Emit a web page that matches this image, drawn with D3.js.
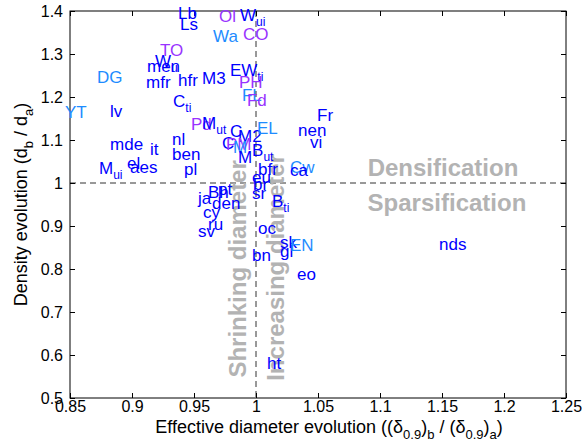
<!DOCTYPE html>
<html><head><meta charset="utf-8">
<script src="https://cdn.jsdelivr.net/npm/d3@7"></script>
<style>
body{margin:0;background:#fff;}
text{font-family:"Liberation Sans",Arial,Helvetica,sans-serif;}
</style></head>
<body><svg id="c" width="582" height="443"></svg>
<script>
// ---- data ----
const xTickValues = [0.85,0.9,0.95,1,1.05,1.1,1.15,1.2,1.25];
const xTickLabels = ["0.85","0.9","0.95","1","1.05","1.1","1.15","1.2","1.25"];
const yTickValues = [0.5,0.6,0.7,0.8,0.9,1,1.1,1.2,1.3,1.4];
const yTickLabels = ["0.5","0.6","0.7","0.8","0.9","1","1.1","1.2","1.3","1.4"];

const names = ["Lb","Ls","Ol","W","Wa","CO","TO","W","men","DG","mfr","hfr","M3","EW","PH","FL","Fd","C","YT","lv","Pd","M","C","M2","C","PM","M","M","EL","B","bfr","Fr","nen","vi","Cw","ca","eu","br","sr","B","oc","sk","gl","EN","bn","eo","ht","nds","mde","it","nl","ben","pl","M","el","aes","ja","pt","Bh","den","cy","ru","sv"];
const subs  = ["","","","ui","","","","u","","","","","","ti","","","","ti","","","","ut","","","","","","","","ut","","","","","","","","","","ti","","","","","","","","","","","","","","ui","","","","","","","","",""];
// group: 0 = blue, 1 = light blue, 2 = purple
const groups = [0,0,2,0,1,2,2,0,0,1,0,0,0,0,2,1,2,0,1,0,2,0,0,0,0,2,1,0,1,0,0,0,0,0,1,0,0,0,0,0,0,0,0,1,0,0,0,0,0,0,0,0,0,0,0,0,0,0,0,0,0,0,0];
const diamEvol = [0.9371,0.9387,0.9702,0.9871,0.9653,0.9895,0.9226,0.9185,0.9121,0.8718,0.9113,0.9371,0.9565,0.9790,0.9863,0.9887,0.9927,0.9331,0.8460,0.8823,0.9476,0.9565,0.9790,0.9855,0.9726,0.9758,0.9815,0.9855,1.0008,0.9968,1.0016,1.0492,1.0339,1.0435,1.0274,1.0274,0.9968,0.9976,0.9968,1.0129,1.0016,1.0194,1.0194,1.0274,0.9968,1.0331,1.0089,1.1476,0.8823,0.9145,0.9323,0.9323,0.9419,0.8734,0.8960,0.8984,0.9532,0.9694,0.9613,0.9645,0.9573,0.9613,0.9532];
const densEvol = [1.3953,1.3698,1.3884,1.3907,1.3419,1.3465,1.3093,1.2837,1.2721,1.2465,1.2349,1.2395,1.2442,1.2628,1.2349,1.2047,1.1930,1.1907,1.1651,1.1674,1.1372,1.1395,1.1209,1.1093,1.0930,1.0907,1.0837,1.0605,1.1279,1.0767,1.0326,1.1581,1.1233,1.0953,1.0372,1.0302,1.0140,0.9977,0.9767,0.9581,0.8953,0.8628,0.8419,0.8558,0.8326,0.7884,0.5814,0.8581,1.0907,1.0791,1.1023,1.0674,1.0326,1.0349,1.0465,1.0372,0.9651,0.9860,0.9791,0.9535,0.9326,0.9047,0.8884];

const regionTexts = ["Densification","Sparsification"];
const regionX = [1.1508,1.1540];
const regionY = [1.0372,0.9535];
const vertTexts = ["Shrinking diameter","Increasing diameter"];
const vertX = [0.9847,1.0161];
const vertY = [0.5475,0.540];

// ---- drawing ----
const colors = ["#0000ff","#1e8cff","#9933ff"];
const L = 70, R = 566, T = 11, B = 398;
const svg = d3.select("#c");
const x = d3.scaleLinear().domain([0.85,1.25]).range([L,R]);
const y = d3.scaleLinear().domain([0.5,1.4]).range([B,T]);

// reference lines
svg.append("line").attr("x1",L).attr("x2",R).attr("y1",y(1)).attr("y2",y(1))
  .attr("stroke","#333").attr("stroke-dasharray","6,4").attr("stroke-width",1);
svg.append("line").attr("x1",x(1)).attr("x2",x(1)).attr("y1",T).attr("y2",B)
  .attr("stroke","#333").attr("stroke-dasharray","6,4").attr("stroke-width",1);

// gray annotations
svg.selectAll("text.reg").data(regionTexts).enter().append("text")
  .attr("class","reg").attr("x",(d,i)=>x(regionX[i])).attr("y",(d,i)=>y(regionY[i]))
  .attr("text-anchor","middle").attr("dominant-baseline","central")
  .attr("font-size",24).attr("font-weight","bold").attr("fill","#b3b3b3").text(d=>d);
svg.selectAll("text.vert").data(vertTexts).enter().append("text")
  .attr("class","vert")
  .attr("transform",(d,i)=>`translate(${x(vertX[i])},${y(vertY[i])}) rotate(-90)`)
  .attr("text-anchor","start").attr("dominant-baseline","central")
  .attr("font-size",24).attr("font-weight","bold").attr("fill","#b3b3b3").text(d=>d);

// axes
const fmtX = (d)=>xTickLabels[xTickValues.indexOf(d)];
const fmtY = (d)=>yTickLabels[yTickValues.indexOf(d)];
const gx = svg.append("g").attr("transform",`translate(0,${B})`)
  .call(d3.axisBottom(x).tickValues(xTickValues).tickFormat(fmtX).tickSize(-5).tickSizeOuter(0).tickPadding(3));
const gxt = svg.append("g").attr("transform",`translate(0,${T})`)
  .call(d3.axisTop(x).tickValues(xTickValues).tickFormat("").tickSize(-5).tickSizeOuter(0));
const gy = svg.append("g").attr("transform",`translate(${L},0)`)
  .call(d3.axisLeft(y).tickValues(yTickValues).tickFormat(fmtY).tickSize(-5).tickSizeOuter(0).tickPadding(7));
const gyr = svg.append("g").attr("transform",`translate(${R},0)`)
  .call(d3.axisRight(y).tickValues(yTickValues).tickFormat("").tickSize(-5).tickSizeOuter(0));
[gx,gxt,gy,gyr].forEach(g=>{
  g.select(".domain").remove();
  g.selectAll("line").attr("stroke","#000");
  g.selectAll("text").attr("font-size",16).attr("fill","#000").attr("font-family","Liberation Sans, Arial, sans-serif");
});
svg.append("rect").attr("x",L).attr("y",T).attr("width",R-L).attr("height",B-T)
  .attr("fill","none").attr("stroke","#000").attr("stroke-width",1);

// labels
const lab = svg.append("g");
names.forEach((n,i)=>{
  const t = lab.append("text").attr("x",x(diamEvol[i])).attr("y",y(densEvol[i])+6)
    .attr("font-size",17).attr("fill",colors[groups[i]]);
  t.append("tspan").text(n);
  if(subs[i]) t.append("tspan").attr("dy",5).attr("font-size",12).text(subs[i]);
});

// axis titles
const xl = svg.append("text").attr("x",329).attr("y",433).attr("text-anchor","middle")
  .attr("font-size",18).attr("fill","#000");
xl.append("tspan").text("Effective diameter evolution ((δ");
xl.append("tspan").attr("dy",6).attr("font-size",13).text("0.9");
xl.append("tspan").attr("dy",-6).text(")");
xl.append("tspan").attr("dy",6).attr("font-size",13).text("b");
xl.append("tspan").attr("dy",-6).text(" / (δ");
xl.append("tspan").attr("dy",6).attr("font-size",13).text("0.9");
xl.append("tspan").attr("dy",-6).text(")");
xl.append("tspan").attr("dy",6).attr("font-size",13).text("a");
xl.append("tspan").attr("dy",-6).text(")");

const yl = svg.append("text").attr("transform",`translate(27,${(T+B)/2}) rotate(-90)`)
  .attr("text-anchor","middle").attr("font-size",18).attr("fill","#000");
yl.append("tspan").text("Density evolution (d");
yl.append("tspan").attr("dy",6).attr("font-size",13).text("b");
yl.append("tspan").attr("dy",-6).text(" / d");
yl.append("tspan").attr("dy",6).attr("font-size",13).text("a");
yl.append("tspan").attr("dy",-6).text(")");
</script></body></html>
